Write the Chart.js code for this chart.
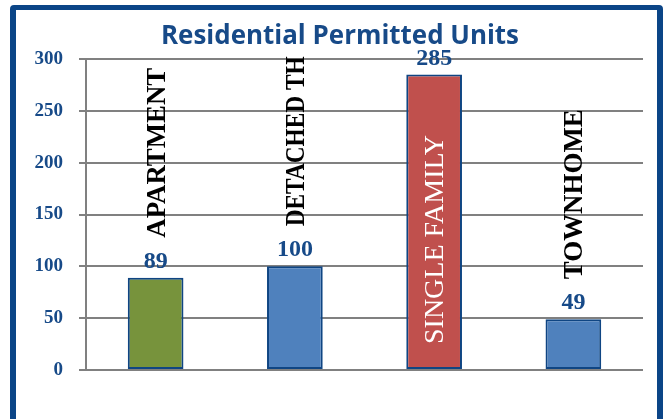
<!DOCTYPE html>
<html>
<head>
<meta charset="utf-8">
<script src="https://cdn.jsdelivr.net/npm/chart.js@4.4.1/dist/chart.umd.min.js"></script>
<style>
  html, body { margin: 0; padding: 0; background: #fff; }
  #wrap { position: relative; width: 666px; height: 419px; overflow: hidden; }
  #frame {
    position: absolute; left: 10px; top: 5px; width: 641px; height: 440px;
    border: 6px solid #0b4587; border-top-width: 5px; border-radius: 4px;
    pointer-events: none;
  }
</style>
</head>
<body>
<div id="wrap">
  <canvas id="chart" width="666" height="419"></canvas>
  <div id="frame"></div>
</div>
<script>
// Data
const categories = ['APARTMENT', 'DETACHED TH', 'SINGLE FAMILY', 'TOWNHOME'];
const units = [89, 100, 285, 49];
const yTicks = [0, 50, 100, 150, 200, 250, 300];

// Styles
const barColors = ['#77933c', '#4f81bd', '#c0504d', '#4f81bd'];
const navy = '#174a88';
const serif = "'Liberation Serif', 'Times New Roman', serif";

// Title + labels drawn on top of the bars
const labelPlugin = {
  id: 'labels',
  afterDatasetsDraw(chart) {
    const ctx = chart.ctx;
    const meta = chart.getDatasetMeta(0);
    const yScale = chart.scales.y;
    const base = yScale.getPixelForValue(0);

    ctx.save();
    // title
    ctx.fillStyle = navy;
    ctx.font = "bold 26px 'Open Sans', Lato, sans-serif";
    ctx.textAlign = 'center';
    ctx.textBaseline = 'alphabetic';
    ctx.fillText('Residential Permitted Units', 340, 44, 358);

    meta.data.forEach((bar, i) => {
      const x = bar.x;
      const top = bar.y;

      // value
      ctx.fillStyle = navy;
      ctx.font = `bold 24px ${serif}`;
      ctx.textAlign = 'center';
      ctx.textBaseline = 'alphabetic';
      ctx.fillText(String(units[i]), x, top - 10);

      // category, rotated
      ctx.font = `bold 27px ${serif}`;
      const len = Math.min(ctx.measureText(categories[i]).width, 170);
      const inside = base - top > len + 50;
      let start;
      if (inside) {
        ctx.font = `28px ${serif}`;
        ctx.fillStyle = '#ffffff';
        start = base - 26;
      } else {
        ctx.fillStyle = '#000000';
        start = top - 40;
      }
      ctx.save();
      ctx.translate(x + 1, start);
      ctx.rotate(-Math.PI / 2);
      ctx.textAlign = 'left';
      ctx.textBaseline = 'middle';
      ctx.fillText(categories[i], 0, 1, inside ? 240 : 170);
      ctx.restore();
    });
    ctx.restore();
  }
};

new Chart(document.getElementById('chart'), {
  type: 'bar',
  data: {
    labels: categories,
    datasets: [{
      data: units,
      backgroundColor: barColors,
      borderColor: '#0f4583',
      borderWidth: 2,
      borderSkipped: false,
      barPercentage: 0.4,
      categoryPercentage: 1.0
    }]
  },
  options: {
    responsive: false,
    animation: false,
    events: [],
    layout: { padding: { top: 59, right: 23, bottom: 41, left: 0 } },
    plugins: {
      legend: { display: false },
      title: { display: false },
      tooltip: { enabled: false }
    },
    scales: {
      x: {
        ticks: { display: false },
        grid: { display: false },
        border: { display: false }
      },
      y: {
        min: 0,
        max: 300,
        afterFit(scale) { scale.width = 86; },
        afterBuildTicks(scale) { scale.ticks = yTicks.map(v => ({ value: v })); },
        ticks: {
          padding: 16,
          color: navy,
          font: { family: serif, size: 19, weight: 'bold' }
        },
        grid: { color: '#808080', lineWidth: 2, tickLength: 7 },
        border: { color: '#808080', width: 2 }
      }
    }
  },
  plugins: [labelPlugin]
});
</script>
</body>
</html>
